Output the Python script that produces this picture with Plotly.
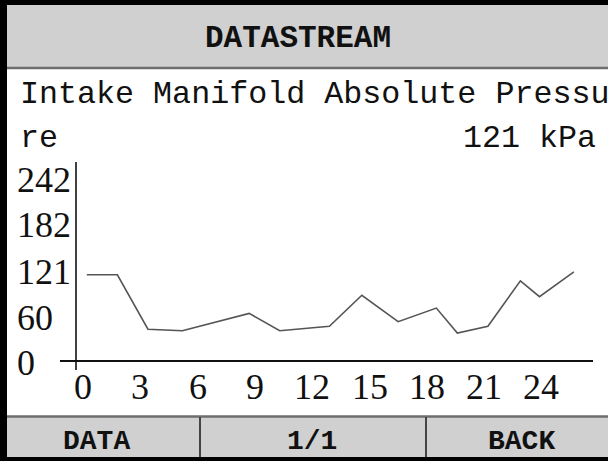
import plotly.graph_objects as go

W, H = 608, 461

# ---- data ----
time_s = [0.2, 1.8, 3.4, 5.2, 8.7, 10.3, 12.9, 14.6, 16.5, 18.5, 19.6, 21.2, 22.9, 23.9, 25.7]
pressure_kpa = [114, 114, 42, 40, 63, 40, 46, 87, 52, 70, 37, 46, 106, 85, 118]
y_ticks = [0, 60, 121, 182, 242]
x_ticks = [0, 3, 6, 9, 12, 15, 18, 21, 24]
header_title = "DATASTREAM"
pid_name_line1 = "Intake Manifold Absolute Pressu"
pid_name_line2 = "re"
current_value = "121 kPa"
footer_buttons = ["DATA", "1/1", "BACK"]

MONO = "Liberation Mono"
SERIF = "Liberation Serif"
GRAY = "#d0d0d0"
DARK = "#6e6e6e"
INK = "#111111"


def px(x):
    return x / W


def py(y):
    return 1 - y / H


# plot area (pixel geometry)
X_LEFT, X_RIGHT = 60, 593
Y_TOP, Y_BOT = 162, 370
X0_PIX, X_SCALE = 83, 19.1     # pixel of x=0, px per unit
Y0_PIX, Y_SCALE = 361, 0.756   # pixel of y=0, px per unit

x_range = [(X_LEFT - X0_PIX) / X_SCALE, (X_RIGHT - X0_PIX) / X_SCALE]
y_range = [(Y0_PIX - Y_BOT) / Y_SCALE, (Y0_PIX - Y_TOP) / Y_SCALE]
y_axis_x = (76 - X0_PIX) / X_SCALE

fig = go.Figure()
fig.add_trace(go.Scatter(
    x=time_s, y=pressure_kpa, mode="lines",
    line=dict(color="#555555", width=1.6),
    hoverinfo="skip", showlegend=False,
))

shapes = []
# header
shapes.append(dict(type="rect", xref="paper", yref="paper", x0=0, x1=1, y0=py(67), y1=py(0),
                   fillcolor=GRAY, line_width=0, layer="below"))
shapes.append(dict(type="rect", xref="paper", yref="paper", x0=0, x1=1, y0=py(5), y1=py(0),
                   fillcolor="#000000", line_width=0))
shapes.append(dict(type="line", xref="paper", yref="paper", x0=0, x1=1, y0=py(68), y1=py(68),
                   line=dict(color=DARK, width=2.5)))
# footer
shapes.append(dict(type="rect", xref="paper", yref="paper", x0=0, x1=1, y0=py(461), y1=py(417),
                   fillcolor=GRAY, line_width=0, layer="below"))
shapes.append(dict(type="line", xref="paper", yref="paper", x0=0, x1=1, y0=py(416.5), y1=py(416.5),
                   line=dict(color=DARK, width=2.5)))
shapes.append(dict(type="rect", xref="paper", yref="paper", x0=0, x1=1, y0=py(461), y1=py(457),
                   fillcolor="#000000", line_width=0))
for dx in (200, 426):
    shapes.append(dict(type="line", xref="paper", yref="paper", x0=px(dx), x1=px(dx),
                       y0=py(457), y1=py(417), line=dict(color="#444444", width=2)))
# left black border
shapes.append(dict(type="rect", xref="paper", yref="paper", x0=0, x1=px(7), y0=0, y1=1,
                   fillcolor="#000000", line_width=0))
# chart axes (crosshair style)
shapes.append(dict(type="line", xref="x", yref="y", x0=x_range[0], x1=x_range[1], y0=0, y1=0,
                   line=dict(color=INK, width=2)))
shapes.append(dict(type="line", xref="x", yref="y", x0=y_axis_x, x1=y_axis_x,
                   y0=y_range[0], y1=y_range[1], line=dict(color=INK, width=1.6)))

ann = []


def text(x, y, s, size, anchor="center", bold=False, family=MONO):
    ann.append(dict(x=x, y=y, xref="paper", yref="paper", text=f"<b>{s}</b>" if bold else s,
                    showarrow=False, xanchor=anchor, yanchor="middle",
                    font=dict(family=family, size=size, color=INK)))


text(px(298), py(38.5), header_title, 31, bold=True)
text(px(18), py(94.5), pid_name_line1, 31.7, anchor="left")
text(px(18), py(139.5), pid_name_line2, 31.7, anchor="left")
text(px(598), py(139.5), current_value, 31.7, anchor="right")
for v in y_ticks:
    ann.append(dict(x=px(15), y=v, xref="paper", yref="y", text=str(v), showarrow=False,
                    xanchor="left", yanchor="middle", yshift=-2,
                    font=dict(family=SERIF, size=36, color=INK)))
for v in x_ticks:
    ann.append(dict(x=v, y=py(387), xref="x", yref="paper", text=str(v), showarrow=False,
                    xanchor="center", yanchor="middle",
                    font=dict(family=SERIF, size=36, color=INK)))
for label, cx in zip(footer_buttons, (96, 312, 521)):
    text(px(cx), py(441), label, 28, bold=True)

fig.update_layout(
    width=W, height=H,
    margin=dict(l=0, r=0, t=0, b=0),
    paper_bgcolor="#ffffff", plot_bgcolor="rgba(0,0,0,0)",
    xaxis=dict(domain=[px(X_LEFT), px(X_RIGHT)], range=x_range, visible=False, fixedrange=True),
    yaxis=dict(domain=[py(Y_BOT), py(Y_TOP)], range=y_range, visible=False, fixedrange=True),
    shapes=shapes, annotations=ann, showlegend=False,
)

fig.write_html(
    "out.html",
    config={"displayModeBar": False},
    post_script="document.body.style.margin='0px';document.body.style.overflow='hidden';",
)
